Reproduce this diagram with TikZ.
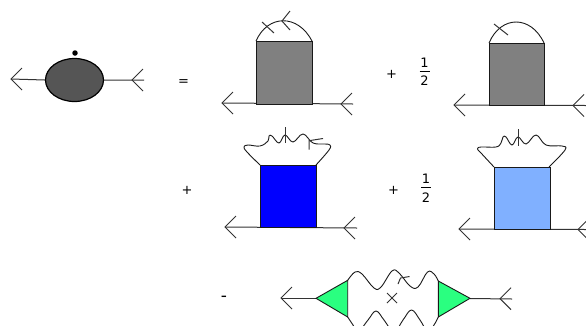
\documentclass[tikz,border=0pt]{standalone}
\usepackage{fontspec}
\usetikzlibrary{shapes.geometric}
\setmainfont{DejaVu Sans}
\definecolor{ovalgray}{HTML}{555555}
\definecolor{boxgray}{HTML}{808080}
\definecolor{lightblue}{HTML}{80B0FF}
\definecolor{mint}{HTML}{2AFF80}
\tikzset{
  ln/.style={line width=1pt,black!80},
  box/.style={draw=black!90,line width=0.9pt},
  wave/.style={line width=0.9pt,black!90,smooth,tension=0.65},
  arcline/.style={line width=0.9pt,black!90},
  lbl/.style={font=\fontsize{13}{15}\selectfont,inner sep=0pt},
  barb/.pic={\draw[ln] (11,-11)--(0,0)--(11,11);}
}
\begin{document}
\begin{tikzpicture}[x=1pt,y=-1pt]
\useasboundingbox (0,0) rectangle (586,325);
\clip (0,0) rectangle (586,325);
% row 1 left
\coordinate (a1) at (11,79); \coordinate (a2) at (144,80);
\node[draw=black,line width=1.2pt,fill=ovalgray,ellipse,minimum width=58pt,minimum height=43pt,inner sep=0pt] (oval) at (74.5,80) {};
\draw[ln] (a1) -- (oval.west) (oval.east) -- (a2);
\pic at (a1) {barb}; \pic at (132,80) {barb};
\node[circle,fill=black,minimum size=5.5pt,inner sep=0pt] (dot) at (75,53) {};
\node[lbl] (eq) at (183.5,82.5) {=};
% box 1
\coordinate (b1) at (222,103); \coordinate (b2) at (353,104);
\draw[ln] (b1) -- (b2);
\pic at (b1) {barb}; \pic at (341,104) {barb};
\draw[box,fill=boxgray] (256,41) coordinate (b3) rectangle (312,104);
\draw[arcline] (256,41) .. controls (268,14) and (298,14) .. (312,41);
\draw[ln] (262,22) -- (274,33);
\draw[ln] (290,11) -- (282,21) -- (290,30);
\node[lbl] (p1) at (391.5,74) {+};
\node[lbl] (n1) at (424.5,62.5) {1};
\node[lbl] (d1) at (424.5,81) {2};
\draw[line width=0.8pt] (419.5,71.5) -- (429.5,71.5);
% box 2
\coordinate (c1) at (454,105); \coordinate (c2) at (586,105.5);
\draw[ln] (c1) -- (c2);
\pic at (c1) {barb}; \pic at (573,105.5) {barb};
\draw[box,fill=boxgray] (489,43) rectangle (544,105);
\draw[arcline] (489,43) .. controls (501,15) and (531,15) .. (544,43);
\draw[ln] (494,24) -- (508,35);
% box 3
\node[lbl] (p2) at (187,190) {+};
\coordinate (e1) at (225,227); \coordinate (e2) at (357,228);
\draw[ln] (e1) -- (e2);
\pic at (e1) {barb}; \pic at (344,228) {barb};
\draw[box,fill=blue] (260,165) rectangle (316,227);
\draw[wave] plot coordinates {(260,165) (247,152) (244,147) (248,145) (260,146) (268,141) (269,136) (272,136) (279,143) (285,135) (293,142) (303,134) (313,143) (325,144) (330,145) (329,150) (316,165)};
\draw[ln] (285,127) -- (285,143);
\draw[ln] (323,138.5) -- (309,140.7) -- (309,149.5);
\node[lbl] (p3) at (393.5,190.5) {+};
\node[lbl] (n2) at (426,178.5) {1};
\node[lbl] (d2) at (426,198) {2};
\draw[line width=0.8pt] (421,187.5) -- (431,187.5);
% box 4
\coordinate (f1) at (459,229); \coordinate (f2) at (586,229.5);
\draw[ln] (f1) -- (f2);
\pic at (f1) {barb}; \pic at (578,229.5) {barb};
\draw[box,fill=lightblue] (494,167) rectangle (550,229);
\draw[wave] plot coordinates {(494,167) (481,153) (477.5,149) (481,147) (496,147) (501,143) (503,137) (506,137) (512,145) (518,137) (526,144) (536,135) (546,145) (562,146) (565,150) (549,167)};
\draw[ln] (518.5,129) -- (518.5,145.5);
% bottom
\node[lbl,font=\fontsize{17}{19}\selectfont] (m1) at (224,299) {-};
\coordinate (g1) at (281,298); \coordinate (g2) at (512,299);
\draw[ln] (g1) -- (316,298);
\draw[ln] (470,298.5) -- (g2);
\pic at (g1) {barb}; \pic at (500,298.7) {barb};
\draw[box,fill=mint] (316,298.3) -- (347.7,280.3) -- (347.7,317) -- cycle;
\draw[box,fill=mint] (470,298.3) -- (438.3,281) -- (438.3,317) -- cycle;
\draw[wave] plot coordinates {(347.7,280.3) (355,272) (362,274) (374,288) (381,287) (392,271) (399,273) (410,286) (418,287) (427.5,272) (434,274) (438.3,281)};
\draw[wave] plot coordinates {(347.7,317) (353,325) (358,332) (368,320) (376,311) (384,320) (394,332) (403,320) (411.5,310) (420,320) (428,332) (434,325) (438.3,317)};
\draw[ln] (398,284) -- (400.5,278) -- (409.5,276.5);
\draw[ln] (387,293) -- (397,303) (397,293) -- (387,303);
\end{tikzpicture}
\end{document}
